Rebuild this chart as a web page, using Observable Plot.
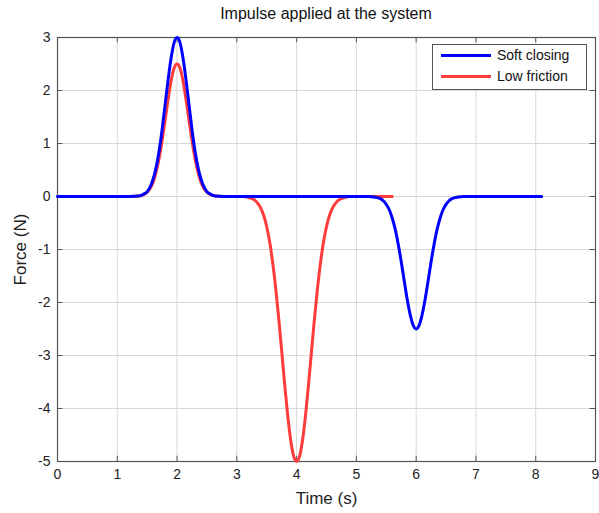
<!DOCTYPE html>
<html>
<head>
<meta charset="utf-8">
<script src="https://cdn.jsdelivr.net/npm/d3@7"></script>
<script src="https://cdn.jsdelivr.net/npm/@observablehq/plot@0.6"></script>
<style>
  body { margin: 0; background: white; font-family: "Liberation Sans", Arial, sans-serif; }
  #wrap { position: relative; width: 599px; height: 513px; }
  #title { height: 30px; width: 599px; text-align: center; font-size: 16px; line-height: 28px; color: #111; padding-left: 53px; box-sizing: border-box; }
  #legend { position: absolute; left: 432px; top: 44px; width: 155px; height: 46px; border: 1px solid #555; background: white; box-sizing: border-box; font-size: 14px; color: #111; }
  .row { position: absolute; left: 8px; display: flex; align-items: center; }
  .sw { width: 50px; height: 3px; margin-right: 6px; }
</style>
</head>
<body>
<div id="wrap">
  <div id="title">Impulse applied at the system</div>
  <div id="chart"></div>
  <div id="legend"></div>
</div>
<script>
const seriesNames = ["Soft closing", "Low friction"];
const seriesColors = ["#0000ff", "#ff3b3b"];

const softTime = [0, 1.2, 1.3, 1.4, 1.45, 1.5, 1.55, 1.6, 1.65, 1.7, 1.75, 1.8, 1.85, 1.9, 1.95, 2.0,
  2.05, 2.1, 2.15, 2.2, 2.25, 2.3, 2.35, 2.4, 2.45, 2.5, 2.55, 2.6, 2.7, 2.8,
  5.2, 5.3, 5.4, 5.45, 5.5, 5.55, 5.6, 5.65, 5.7, 5.75, 5.8, 5.85, 5.9, 5.95, 6.0,
  6.05, 6.1, 6.15, 6.2, 6.25, 6.3, 6.35, 6.4, 6.45, 6.5, 6.55, 6.6, 6.7, 6.8, 8.1];
const softForce = [0, 0, 0.003, 0.02, 0.05, 0.09, 0.18, 0.33, 0.55, 0.86, 1.26, 1.73, 2.20, 2.61, 2.90, 3.00,
  2.90, 2.61, 2.20, 1.73, 1.26, 0.86, 0.55, 0.33, 0.18, 0.09, 0.05, 0.02, 0.003, 0,
  0, -0.01, -0.04, -0.08, -0.15, -0.25, -0.41, -0.62, -0.90, -1.23, -1.59, -1.94, -2.23, -2.43, -2.50,
  -2.43, -2.23, -1.94, -1.59, -1.23, -0.90, -0.62, -0.41, -0.25, -0.15, -0.08, -0.04, -0.01, 0, 0];

const lowTime = [0, 1.2, 1.3, 1.4, 1.45, 1.5, 1.55, 1.6, 1.65, 1.7, 1.75, 1.8, 1.85, 1.9, 1.95, 2.0,
  2.05, 2.1, 2.15, 2.2, 2.25, 2.3, 2.35, 2.4, 2.45, 2.5, 2.55, 2.6, 2.7, 2.8,
  3.1, 3.2, 3.3, 3.35, 3.4, 3.45, 3.5, 3.55, 3.6, 3.65, 3.7, 3.75, 3.8, 3.85, 3.9, 3.95, 4.0,
  4.05, 4.1, 4.15, 4.2, 4.25, 4.3, 4.35, 4.4, 4.45, 4.5, 4.55, 4.6, 4.65, 4.7, 4.8, 4.9, 5.6];
const lowForce = [0, 0, 0.003, 0.02, 0.04, 0.08, 0.15, 0.27, 0.46, 0.72, 1.05, 1.44, 1.83, 2.18, 2.42, 2.50,
  2.42, 2.18, 1.83, 1.44, 1.05, 0.72, 0.46, 0.27, 0.15, 0.08, 0.04, 0.02, 0.003, 0,
  0, -0.02, -0.07, -0.13, -0.22, -0.36, -0.57, -0.86, -1.25, -1.73, -2.29, -2.91, -3.54, -4.12, -4.59, -4.90, -5.00,
  -4.90, -4.59, -4.12, -3.54, -2.91, -2.29, -1.73, -1.25, -0.86, -0.57, -0.36, -0.22, -0.13, -0.07, -0.02, 0, 0];

const xTicks = [0, 1, 2, 3, 4, 5, 6, 7, 8, 9];
const yTicks = [-5, -4, -3, -2, -1, 0, 1, 2, 3];
const xLabel = "Time (s)";
const yLabel = "Force (N)";

const soft = softTime.map((t, i) => ({t, f: softForce[i]}));
const low = lowTime.map((t, i) => ({t, f: lowForce[i]}));

const chart = Plot.plot({
  width: 599,
  height: 483,
  marginLeft: 57,
  marginRight: 4,
  marginTop: 7,
  marginBottom: 52,
  style: {fontFamily: "'Liberation Sans', Arial, sans-serif", fontSize: "13px", color: "#222", overflow: "visible"},
  x: {domain: [0, 9]},
  y: {domain: [-5, 3]},
  marks: [
    Plot.gridX(xTicks, {stroke: "#d8d8d8", strokeOpacity: 1}),
    Plot.gridY(yTicks, {stroke: "#d8d8d8", strokeOpacity: 1}),
    Plot.ruleX(xTicks, {x: d => d, y1: 3, y2: 2.9, stroke: "#555"}),
    Plot.ruleX(xTicks, {x: d => d, y1: -5, y2: -4.9, stroke: "#555"}),
    Plot.ruleY(yTicks, {y: d => d, x1: 0, x2: 0.09, stroke: "#555"}),
    Plot.ruleY(yTicks, {y: d => d, x1: 9, x2: 8.91, stroke: "#555"}),
    Plot.frame({stroke: "#555", strokeWidth: 1.2}),
    Plot.axisX(xTicks, {tickSize: 0, tickPadding: 8, fontSize: 14, tickFormat: d => String(d), label: xLabel, labelAnchor: "center", labelOffset: 42}),
    Plot.axisY(yTicks, {tickSize: 0, tickPadding: 7, fontSize: 14, tickFormat: d => String(d), label: yLabel, labelAnchor: "center", labelOffset: 44}),
    Plot.line(low, {x: "t", y: "f", stroke: seriesColors[1], strokeWidth: 3, curve: "monotone-x"}),
    Plot.line(soft, {x: "t", y: "f", stroke: seriesColors[0], strokeWidth: 3, curve: "monotone-x"})
  ]
});
chart.querySelectorAll("[aria-label='x-axis label'] text, [aria-label='y-axis label'] text").forEach(t => {
  t.style.fontSize = "17px";
  t.textContent = t.textContent.replace(/[\s]*[→←↑↓][\s]*/g, "").trim();
  t.querySelectorAll && null;
});
document.getElementById("chart").appendChild(chart);

const legend = document.getElementById("legend");
seriesNames.forEach((name, i) => {
  const row = document.createElement("div");
  row.className = "row";
  row.style.top = (2 + i * 21) + "px";
  row.innerHTML = `<div class="sw" style="background:${seriesColors[i]}"></div><span>${name}</span>`;
  legend.appendChild(row);
});
</script>
</body>
</html>
